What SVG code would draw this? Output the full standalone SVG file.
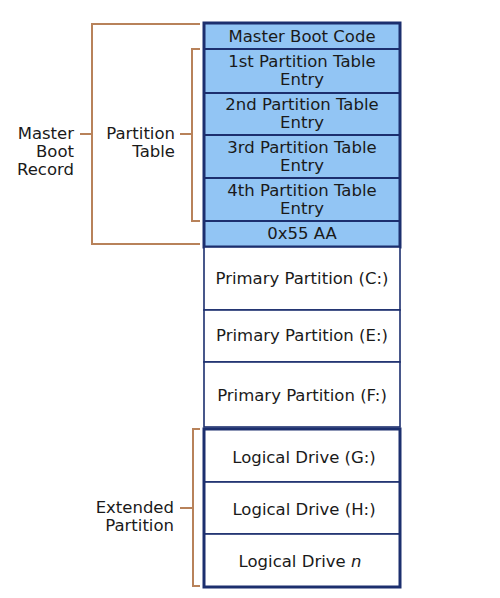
<svg xmlns="http://www.w3.org/2000/svg" width="500" height="598" viewBox="0 0 500 598">
<style>
.t{font-family:"DejaVu Sans","Liberation Sans",sans-serif;font-size:16.5px;fill:#1a1a1a;text-anchor:middle}
.l{font-family:"DejaVu Sans","Liberation Sans",sans-serif;font-size:16.5px;fill:#1a1a1a;text-anchor:end}
.b{fill:#92C5F4;stroke:#1C2F6E;stroke-width:2}
.w{fill:#ffffff;stroke:#1C2F6E;stroke-width:1.6}
.frame{fill:none;stroke:#1C2F6E;stroke-width:3}
.br{fill:none;stroke:#B8825A;stroke-width:2}
</style>
<rect width="500" height="598" fill="#ffffff"/>
<g id="mbc"><rect class="b" x="204" y="23" width="196" height="26"/><text class="t" x="302" y="42">Master Boot Code</text></g>
<g id="pte1"><rect class="b" x="204" y="49" width="196" height="44"/><text class="t" x="302" y="67">1st Partition Table</text><text class="t" x="302" y="85">Entry</text></g>
<g id="pte2"><rect class="b" x="204" y="93" width="196" height="42"/><text class="t" x="302" y="110">2nd Partition Table</text><text class="t" x="302" y="128">Entry</text></g>
<g id="pte3"><rect class="b" x="204" y="135" width="196" height="43"/><text class="t" x="302" y="153">3rd Partition Table</text><text class="t" x="302" y="171">Entry</text></g>
<g id="pte4"><rect class="b" x="204" y="178" width="196" height="43"/><text class="t" x="302" y="196">4th Partition Table</text><text class="t" x="302" y="214">Entry</text></g>
<g id="sig"><rect class="b" x="204" y="221" width="196" height="26"/><text class="t" x="302" y="239">0x55 AA</text></g>
<rect class="frame" x="204" y="23" width="196" height="224"/>
<g id="primC"><rect class="w" x="204" y="247" width="196" height="63"/><text class="t" x="302" y="284">Primary Partition (C:)</text></g>
<g id="primE"><rect class="w" x="204" y="310" width="196" height="52"/><text class="t" x="302" y="341">Primary Partition (E:)</text></g>
<g id="primF"><rect class="w" x="204" y="362" width="196" height="65"/><text class="t" x="302" y="401">Primary Partition (F:)</text></g>
<g id="logG"><rect class="w" x="204" y="429" width="196" height="53"/><text class="t" x="304" y="463">Logical Drive (G:)</text></g>
<g id="logH"><rect class="w" x="204" y="482" width="196" height="52"/><text class="t" x="304" y="515">Logical Drive (H:)</text></g>
<g id="logN"><rect class="w" x="204" y="534" width="196" height="53"/><text class="t" x="300" y="567">Logical Drive <tspan font-style="italic">n</tspan></text></g>
<rect class="frame" x="204" y="429" width="196" height="158"/>
<g id="connectors">
<path class="br" d="M200,24 H92 V244 H200 M80,134 H92"/>
<path class="br" d="M200,49 H192 V221 H200 M180,134 H192"/>
<path class="br" d="M200,429 H193 V586 H200 M180,508 H193"/>
</g>
<g id="lbl-mbr"><text class="l" x="74" y="139">Master</text><text class="l" x="74" y="157">Boot</text><text class="l" x="74" y="175">Record</text></g>
<g id="lbl-pt"><text class="l" x="175" y="139">Partition</text><text class="l" x="175" y="157">Table</text></g>
<g id="lbl-ext"><text class="l" x="174" y="513">Extended</text><text class="l" x="174" y="531">Partition</text></g>
</svg>
